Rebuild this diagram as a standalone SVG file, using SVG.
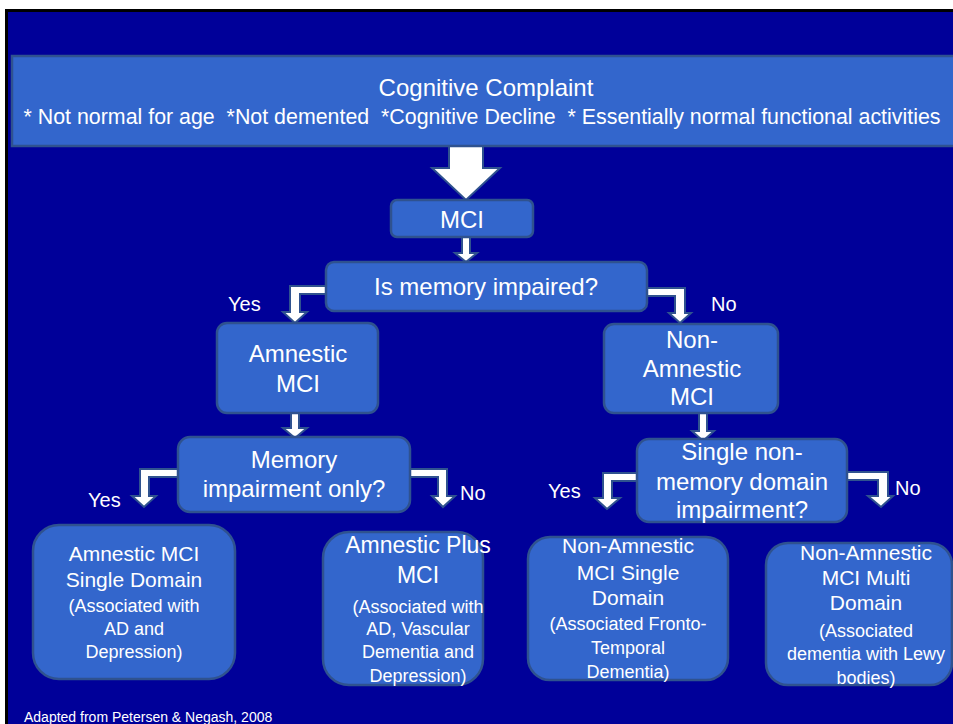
<svg xmlns="http://www.w3.org/2000/svg" width="953" height="724" viewBox="0 0 953 724">
<style>
.box{fill:#3366CC;stroke:#2F528F;stroke-width:2.5}
.arr{fill:#FFFFFF;stroke:#2F528F;stroke-width:2;stroke-linejoin:miter}
text{font-family:"Liberation Sans",Arial,sans-serif;fill:#FFFFFF;text-anchor:middle}
.t24{font-size:24px}
.t21{font-size:21px}
.t18{font-size:18px}
.lbl{font-size:20px;text-anchor:start}
</style>
<rect x="0" y="0" width="953" height="724" fill="#FFFFFF"/>
<rect x="5" y="9" width="960" height="720" fill="#000000"/>
<rect x="8" y="12" width="960" height="720" fill="#000099"/>

<g id="connectors">
  <path class="arr" d="M449,136 L483,136 L483,168 L500,168 L466,200 L432,168 L449,168 Z"/>
  <path class="arr" d="M462,237 L470,237 L470,253 L477,253 L466,262 L455,253 L462,253 Z"/>
  <path class="arr" d="M326,286 L290,286 L290,312 L283,312 L295,323 L307,312 L300,312 L300,294 L326,294 Z"/>
  <path class="arr" d="M647,288 L685,288 L685,313 L691,313 L680,323 L669,313 L675,313 L675,296 L647,296 Z"/>
  <path class="arr" d="M291,413 L299,413 L299,428 L307,428 L295,438 L283,428 L291,428 Z"/>
  <path class="arr" d="M699,413 L707,413 L707,431 L714,431 L703,441 L692,431 L699,431 Z"/>
  <path class="arr" d="M178,469 L140,469 L140,496 L132,496 L144,507 L156,496 L149,496 L149,477 L178,477 Z"/>
  <path class="arr" d="M410,469 L447,469 L447,496 L455,496 L443,507 L432,496 L438,496 L438,477 L410,477 Z"/>
  <path class="arr" d="M637,473 L603,473 L603,498 L595,498 L607,509 L620,498 L612,498 L612,481 L637,481 Z"/>
  <path class="arr" d="M847,472 L888,472 L888,496 L893,496 L881,507 L868,496 L878,496 L878,480 L847,480 Z"/>
</g>

<g id="complaint">
  <rect class="box" x="12" y="56" width="960" height="90"/>
  <text class="t24" x="486" y="96">Cognitive Complaint</text>
  <text x="482" y="124" font-size="21.4" textLength="917" lengthAdjust="spacingAndGlyphs" style="white-space:pre">* Not normal for age  *Not demented  *Cognitive Decline  * Essentially normal functional activities</text>
</g>

<g id="mci">
  <rect class="box" x="391" y="200" width="142" height="37" rx="6"/>
  <text class="t24" x="462" y="228">MCI</text>
</g>

<g id="memory-impaired">
  <rect class="box" x="326" y="262" width="321" height="49" rx="8"/>
  <text class="t24" x="486" y="295">Is memory impaired?</text>
</g>

<g id="amnestic">
  <rect class="box" x="217" y="323" width="161" height="90" rx="10"/>
  <text class="t24" x="298" y="362">Amnestic</text>
  <text class="t24" x="298" y="392">MCI</text>
</g>

<g id="non-amnestic">
  <rect class="box" x="604" y="324" width="174" height="89" rx="10"/>
  <text class="t24" x="692" y="348">Non-</text>
  <text class="t24" x="692" y="377">Amnestic</text>
  <text class="t24" x="692" y="405">MCI</text>
</g>

<g id="memory-only">
  <rect class="box" x="178" y="437" width="232" height="75" rx="12"/>
  <text class="t24" x="294" y="468">Memory</text>
  <text class="t24" x="294" y="497">impairment only?</text>
</g>

<g id="single-non-memory">
  <rect class="box" x="637" y="439" width="210" height="83" rx="12"/>
  <text class="t24" x="742" y="460">Single non-</text>
  <text class="t24" x="742" y="490">memory domain</text>
  <text class="t24" x="742" y="518">impairment?</text>
</g>

<g id="labels">
  <text class="lbl" x="228" y="311">Yes</text>
  <text class="lbl" x="711" y="311">No</text>
  <text class="lbl" x="88" y="507">Yes</text>
  <text class="lbl" x="460" y="500">No</text>
  <text class="lbl" x="548" y="498">Yes</text>
  <text class="lbl" x="895" y="495">No</text>
</g>

<g id="amnestic-single">
  <rect class="box" x="33" y="525" width="202" height="154" rx="26"/>
  <text class="t21" x="134" y="561">Amnestic MCI</text>
  <text class="t21" x="134" y="587">Single Domain</text>
  <text class="t18" x="134" y="612">(Associated with</text>
  <text class="t18" x="134" y="635">AD and</text>
  <text class="t18" x="134" y="658">Depression)</text>
</g>

<g id="amnestic-plus">
  <rect class="box" x="323" y="532" width="160" height="153" rx="26"/>
  <text x="418" y="553" font-size="23">Amnestic Plus</text>
  <text x="418" y="583" font-size="23">MCI</text>
  <text class="t18" x="418" y="613">(Associated with</text>
  <text class="t18" x="418" y="635">AD, Vascular</text>
  <text class="t18" x="418" y="658">Dementia and</text>
  <text class="t18" x="418" y="682">Depression)</text>
</g>

<g id="non-amnestic-single">
  <rect class="box" x="528" y="537" width="200" height="143" rx="22"/>
  <text class="t21" x="628" y="553">Non-Amnestic</text>
  <text class="t21" x="628" y="580">MCI Single</text>
  <text class="t21" x="628" y="605">Domain</text>
  <text class="t18" x="628" y="630">(Associated Fronto-</text>
  <text class="t18" x="628" y="654">Temporal</text>
  <text class="t18" x="628" y="678">Dementia)</text>
</g>

<g id="non-amnestic-multi">
  <rect class="box" x="766" y="543" width="186" height="142" rx="22"/>
  <text class="t21" x="866" y="560">Non-Amnestic</text>
  <text class="t21" x="866" y="585">MCI Multi</text>
  <text class="t21" x="866" y="610">Domain</text>
  <text class="t18" x="866" y="637">(Associated</text>
  <text class="t18" x="866" y="660">dementia with Lewy</text>
  <text class="t18" x="866" y="684">bodies)</text>
</g>

<g id="footer">
  <text x="24" y="722" font-size="14" style="text-anchor:start">Adapted from Petersen &amp; Negash, 2008</text>
</g>
</svg>
